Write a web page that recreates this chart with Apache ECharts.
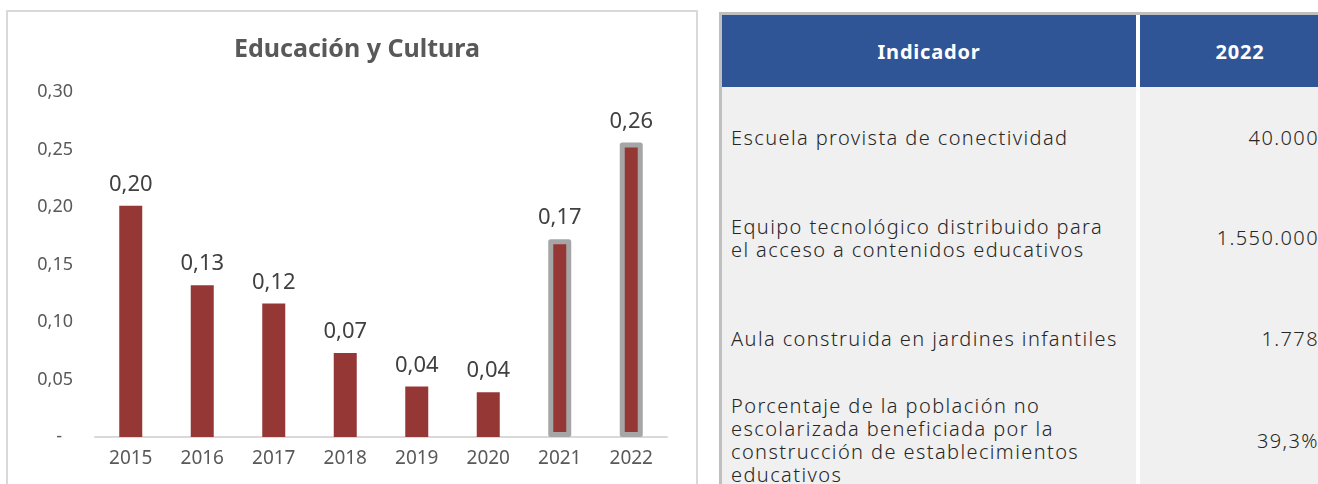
<!DOCTYPE html>
<html>
<head>
<meta charset="utf-8">
<script src="https://cdn.jsdelivr.net/npm/echarts@6/dist/echarts.min.js"></script>
<style>
  html, body { margin: 0; padding: 0; background: #fff; overflow: hidden; }
  body { width: 1318px; height: 484px; position: relative; font-family: "Noto Sans", sans-serif; }
  #chart { position: absolute; left: 0; top: 0; width: 700px; height: 484px; }
  #frame { position: absolute; left: 6px; top: 10px; width: 688px; height: 490px;
           border: 2px solid #d9d9d9; pointer-events: none; }
  #tbl { position: absolute; left: 719px; top: 12px; width: 640px; height: 500px;
         border-top: 3px solid #bfbfbf; border-left: 3px solid #bfbfbf; background: #fff; }
  .cell { position: absolute; box-sizing: border-box; display: flex; align-items: center; }
  .head { background: #2f5597; color: #fff; font-weight: bold; font-size: 20px; letter-spacing: 0.8px; justify-content: center; }
  .body { background: #f0f0f0; color: #262626; font-size: 20px; line-height: 23px; letter-spacing: 1.4px; font-weight: 300; }
  .txt { padding-left: 9px; padding-right: 18px; }
  .num { justify-content: flex-end; padding-right: 0; }
</style>
</head>
<body>
<div id="chart"></div>
<div id="frame"></div>
<div id="tbl"></div>
<script>
// chart data
var years = ['2015', '2016', '2017', '2018', '2019', '2020', '2021', '2022'];
var values = [0.201, 0.132, 0.116, 0.073, 0.044, 0.039, 0.172, 0.256];
var highlighted = ['2021', '2022'];

// table data
var tableHeader = ['Indicador', '2022'];
var indicators = [
    'Escuela provista de conectividad',
    'Equipo tecnológico distribuido para el acceso a contenidos educativos',
    'Aula construida en jardines infantiles',
    'Porcentaje de la población no escolarizada beneficiada por la construcción de establecimientos educativos'
];
var values2022 = ['40.000', '1.550.000', '1.778', '39,3%'];

function fmt(v) {
    return v.toFixed(2).replace('.', ',');
}

var chart = echarts.init(document.getElementById('chart'));

var barData = years.map(function (y, i) {
    var item = { value: values[i] };
    if (highlighted.indexOf(y) >= 0) {
        item.itemStyle = { borderColor: '#a6a6a6', borderWidth: 5, borderJoin: 'round' };
    }
    return item;
});

var option = {
    animation: false,
    title: {
        text: 'Educación y Cultura',
        left: 352,
        textAlign: 'center',
        top: 32,
        textStyle: { fontFamily: 'Noto Sans', fontSize: 25, fontWeight: 'bold', color: '#595959' }
    },
    grid: { left: 95, right: 33, top: 92, bottom: 47 },
    xAxis: {
        type: 'category',
        data: years,
        axisLine: { lineStyle: { color: '#d9d9d9', width: 2 } },
        axisTick: { show: false },
        axisLabel: { margin: 12, fontFamily: 'Noto Sans', fontSize: 19, color: '#595959' }
    },
    yAxis: {
        type: 'value',
        min: 0,
        max: 0.3,
        interval: 0.05,
        splitLine: { show: false },
        axisLine: { show: false },
        axisLabel: {
            margin: 22,
            fontFamily: 'Noto Sans',
            fontSize: 18,
            color: '#595959',
            formatter: function (v) {
                return v === 0 ? '{d|-}' : fmt(v);
            },
            rich: { d: { padding: [0, 11, 0, 0], fontSize: 18, color: '#595959' } }
        }
    },
    series: [{
        type: 'bar',
        data: barData,
        barWidth: 23,
        itemStyle: { color: '#953735' },
        label: {
            show: true,
            position: 'top',
            distance: 10,
            fontFamily: 'Noto Sans',
            fontSize: 22,
            color: '#404040',
            formatter: function (p) { return fmt(p.value); }
        }
    }]
};
chart.setOption(option);

// table
var tbl = document.getElementById('tbl');
var col1W = 414, sep = 4, col2W = 200;
var headH = 72;
var rowH = [100, 101, 100, 104];

function addCell(cls, x, y, w, h, html) {
    var d = document.createElement('div');
    d.className = 'cell ' + cls;
    d.style.left = x + 'px';
    d.style.top = y + 'px';
    d.style.width = w + 'px';
    d.style.height = h + 'px';
    d.innerHTML = html;
    tbl.appendChild(d);
}

addCell('head', 0, 0, col1W, headH, tableHeader[0]);
addCell('head', col1W + sep, 0, col2W, headH, tableHeader[1]);
var y = headH;
for (var i = 0; i < indicators.length; i++) {
    addCell('body txt', 0, y, col1W, rowH[i], '<span>' + indicators[i] + '</span>');
    addCell('body num', col1W + sep, y, 179, rowH[i], values2022[i]);
    y += rowH[i];
}
</script>
</body>
</html>
